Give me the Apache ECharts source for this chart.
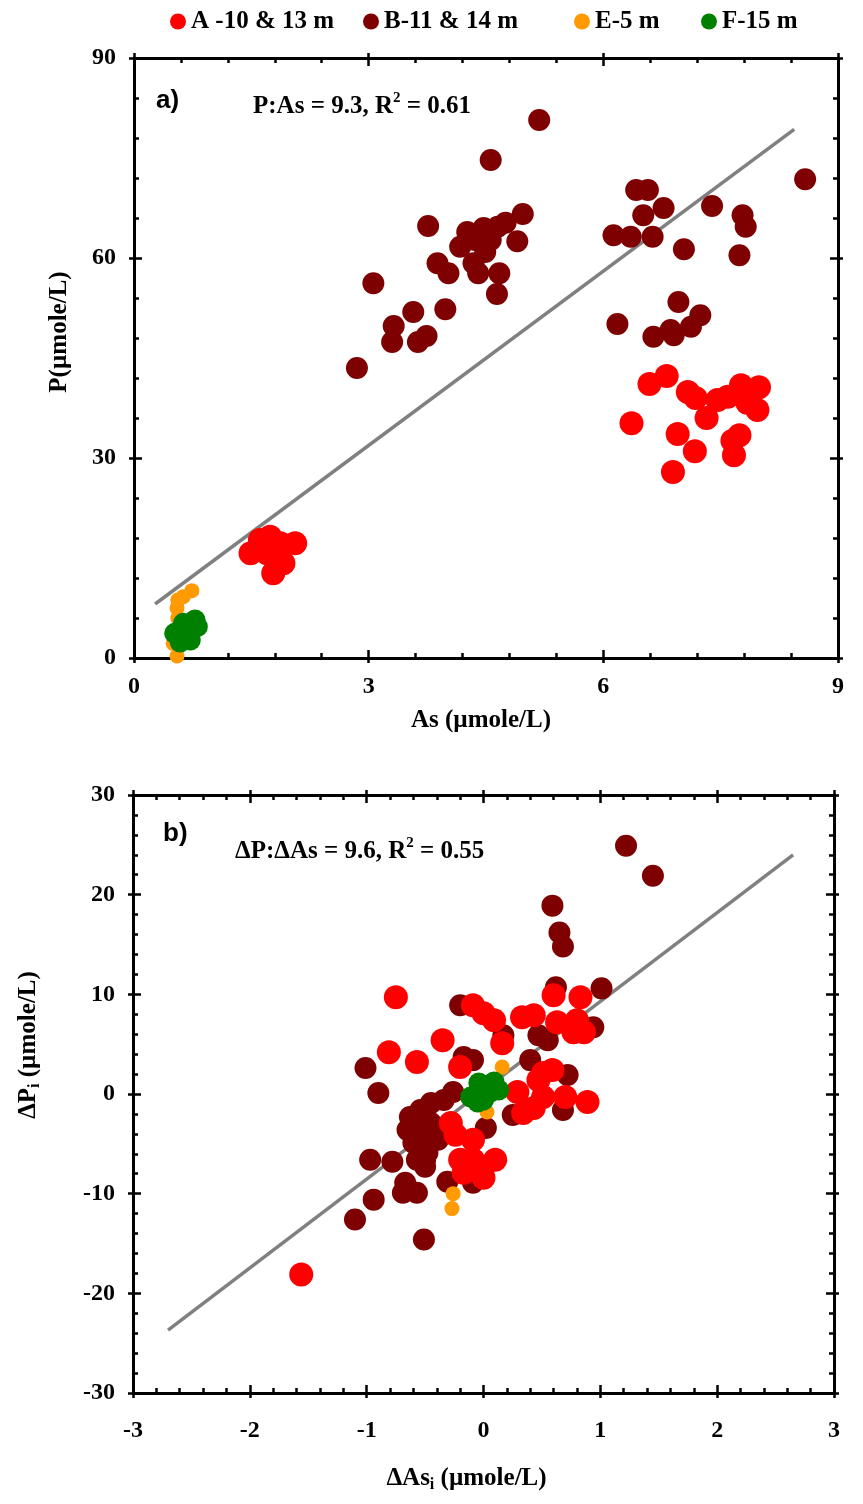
<!DOCTYPE html>
<html>
<head>
<meta charset="utf-8">
<script src="https://cdn.jsdelivr.net/npm/echarts@6/dist/echarts.min.js"></script>
<style>
html,body{margin:0;padding:0;background:#fff;}
#c{width:863px;height:1504px;}
</style>
</head>
<body>
<div id="c"></div>
<script>
// ---------- DATA ----------
const seriesNames = ['A -10 & 13 m', 'B-11 & 14 m', 'E-5 m', 'F-15 m'];
const seriesColors = ['#ff0000', '#7f0000', '#ff9a00', '#008000'];

// Panel a: As (µmole/L) vs P (µmole/L)
const aA = [[1.49,15.7],[1.61,17.7],[1.74,18.2],[1.87,17.2],[2.06,17.2],[1.91,14.2],[1.78,12.7],[1.70,15.7],
  [6.59,41.1],[6.81,42.3],[6.36,35.2],[7.08,39.9],[7.18,39.0],[7.32,36.0],[7.46,38.7],[7.59,39.2],[7.76,40.9],
  [7.99,40.6],[7.97,37.2],[7.84,38.3],[6.95,33.6],[7.17,31.0],[7.74,33.4],[7.65,32.6],[7.67,30.4],[6.89,27.9]];
const aB = [[5.18,80.7],[4.56,74.7],[8.58,71.8],[6.42,70.2],[6.57,70.2],[6.77,67.5],[7.39,67.8],[7.78,66.4],
  [7.82,64.7],[6.51,66.4],[6.13,63.4],[6.35,63.2],[6.63,63.2],[7.03,61.3],[7.74,60.4],[4.97,66.6],[3.76,64.8],
  [4.26,63.9],[4.47,64.5],[4.65,64.7],[4.75,65.3],[4.90,62.5],[4.17,61.7],[4.56,62.7],[4.36,62.7],[4.49,60.9],
  [3.88,59.2],[4.02,57.7],[4.34,59.2],[4.40,57.7],[4.67,57.7],[4.64,54.6],[3.06,56.2],[3.57,51.9],[3.98,52.3],
  [3.32,49.8],[3.30,47.4],[3.74,48.3],[3.63,47.4],[6.18,50.1],[6.96,53.4],[7.24,51.4],[7.12,49.7],[6.86,49.2],
  [6.64,48.2],[6.90,48.4],[2.85,43.5]];
const aE = [[0.74,10.1],[0.56,8.7],[0.55,7.5],[0.56,6.0],[0.50,2.2],[0.55,0.3],[0.63,9.2]];
const aF = [[0.68,3.9],[0.52,3.7],[0.81,4.7],[0.59,2.4],[0.72,2.7],[0.78,5.7],[0.63,5.2]];
const aFit = [[0.27,8.1],[8.44,79.3]];

// Panel b: ΔAs_i vs ΔP_i (µmole/L)
const bA = [[-0.75,9.7],[-0.81,4.2],[-0.57,3.2],[-0.35,5.4],[-0.09,8.9],[0.0,8.1],[0.09,7.4],[0.16,5.1],
  [-0.20,2.7],[0.33,7.7],[0.43,7.9],[0.60,9.9],[0.83,9.7],[0.63,7.2],[0.80,7.4],[0.77,6.2],[0.86,6.2],
  [0.51,2.1],[0.59,2.4],[0.47,1.4],[0.29,0.2],[0.51,-0.3],[0.70,-0.3],[0.89,-0.8],[0.34,-1.9],[0.43,-1.4],
  [-0.28,-2.9],[-0.24,-4.1],[-0.09,-4.6],[-0.20,-6.6],[-0.09,-6.6],[0.10,-6.6],[0.0,-7.3],[-0.17,-7.9],
  [0.0,-8.4],[-1.56,-18.1]];
const bB = [[1.22,24.9],[1.45,21.9],[0.59,18.9],[0.65,16.2],[0.68,14.8],[0.62,10.7],[1.01,10.6],
  [-1.01,2.6],[-0.90,0.1],[-0.20,8.9],[-0.17,3.7],[-0.09,3.4],[0.17,5.9],[0.40,3.4],[0.47,5.9],[0.55,5.4],
  [0.94,6.7],[0.72,1.9],[0.68,-1.6],[0.25,-2.1],[0.02,-3.4],[-0.26,0.2],[-0.34,-0.6],[-0.45,-0.9],
  [-0.54,-1.6],[-0.63,-2.3],[-0.65,-3.6],[-0.54,-3.3],[-0.45,-2.9],[-0.37,-3.6],[-0.39,-4.6],[-0.51,-4.6],
  [-0.60,-4.9],[-0.48,-5.9],[-0.57,-6.6],[-0.78,-6.8],[-0.97,-6.6],[-0.50,-6.6],[-0.50,-7.3],[-0.67,-8.9],
  [-0.69,-9.9],[-0.57,-9.9],[-0.94,-10.6],[-0.31,-8.8],[-0.09,-8.9],[-1.10,-12.6],[-0.51,-14.6]];
const bE = [[0.16,2.7],[0.03,-1.8],[-0.26,-10.0],[-0.27,-11.5],[0.0,-1.0],[0.05,1.2]];
const bF = [[-0.11,-0.3],[-0.04,1.1],[0.09,1.2],[0.13,0.4],[0.0,-0.6],[0.06,0.2],[-0.05,-0.8],[0.0,0.4]];
const bFit = [[-2.70,-23.7],[2.65,24.0]];

// Axis ticks
const aXTicks = {min:0, max:9, interval:3};
const aYTicks = {min:0, max:90, interval:30};
const bXTicks = {min:-3, max:3, interval:1};
const bYTicks = {min:-30, max:30, interval:10};

// ---------- CHART ----------
const serif = 'Liberation Serif';
const labelStyle = {fontFamily: serif, fontWeight: 'bold', fontSize: 24, color: '#000'};
const gridRects = [
  {left:134, top:58, width:704, height:600},
  {left:133, top:795, width:701, height:598}
];
const grids = [];
gridRects.forEach(r => {
  grids.push(Object.assign({outerBoundsMode:'none', containLabel:false}, r));
  grids.push(Object.assign({outerBoundsMode:'none', containLabel:false}, r));
});

function mainAxis(gridIndex, ticks, position, showLabel, extra) {
  return Object.assign({
    type:'value', gridIndex, position,
    min: ticks.min, max: ticks.max, interval: ticks.interval,
    axisLine:{show:true, onZero:false, lineStyle:{color:'#000', width:3}},
    axisTick:{show:true, inside:true, length:8, lineStyle:{color:'#000', width:2.5}},
    minorTick:{show:true, splitNumber:5, length:5, lineStyle:{color:'#000', width:2.5}},
    splitLine:{show:false},
    axisLabel: Object.assign({show:showLabel}, labelStyle),
  }, extra || {});
}
function outerAxis(gridIndex, ticks, position) {
  return {
    type:'value', gridIndex, position,
    min: ticks.min, max: ticks.max, interval: ticks.interval,
    axisLine:{show:false, onZero:false},
    axisTick:{show:true, inside:false, length:5, lineStyle:{color:'#000', width:2.5}},
    splitLine:{show:false},
    axisLabel:{show:false}
  };
}
const nameStyle = {fontFamily: serif, fontWeight:'bold', fontSize:25, color:'#000'};
const subRich = {
  m:{fontFamily:serif, fontWeight:'bold', fontSize:25, lineHeight:28, color:'#000'},
  s:{fontFamily:serif, fontWeight:'bold', fontSize:16, lineHeight:12, verticalAlign:'bottom', color:'#000'}
};

const xAxes = [
  mainAxis(0, aXTicks, 'bottom', true, {name:'As (µmole/L)', nameLocation:'middle', nameGap:50,
    nameTextStyle:Object.assign({}, nameStyle, {padding:[0,10,0,0]}),
    axisLabel: Object.assign({show:true, margin:17}, labelStyle)}),
  mainAxis(0, aXTicks, 'top', false),
  outerAxis(1, aXTicks, 'bottom'),
  outerAxis(1, aXTicks, 'top'),
  mainAxis(2, bXTicks, 'bottom', true, {name:'{m|ΔAs}{s|i}{m| (µmole/L)}', nameLocation:'middle', nameGap:72,
    nameTextStyle: Object.assign({}, nameStyle, {rich:subRich, padding:[0,34,0,0]}),
    axisLabel: Object.assign({show:true, margin:26}, labelStyle)}),
  mainAxis(2, bXTicks, 'top', false),
  outerAxis(3, bXTicks, 'bottom'),
  outerAxis(3, bXTicks, 'top')
];
const yAxes = [
  mainAxis(0, aYTicks, 'left', true, {name:'P(µmole/L)', nameLocation:'middle', nameGap:62, nameRotate:90,
    nameTextStyle:Object.assign({}, nameStyle, {padding:[0,0,0,52]}),
    axisLabel: Object.assign({show:true, margin:18}, labelStyle)}),
  mainAxis(0, aYTicks, 'right', false),
  outerAxis(1, aYTicks, 'left'),
  outerAxis(1, aYTicks, 'right'),
  mainAxis(2, bYTicks, 'left', true, {name:'{m|ΔP}{s|i}{m| (µmole/L)}', nameLocation:'middle', nameGap:90, nameRotate:90,
    nameTextStyle: Object.assign({}, nameStyle, {rich:subRich, padding:[0,0,0,98]}),
    axisLabel: Object.assign({show:true, margin:18}, labelStyle)}),
  mainAxis(2, bYTicks, 'right', false),
  outerAxis(3, bYTicks, 'left'),
  outerAxis(3, bYTicks, 'right')
];

function fitSeries(data, xi, yi) {
  return {type:'line', data, xAxisIndex:xi, yAxisIndex:yi, symbol:'none', silent:true,
    lineStyle:{color:'#808080', width:3.5}, z:1};
}
function sc(name, data, xi, yi, size, color, z) {
  return {type:'scatter', name, data, xAxisIndex:xi, yAxisIndex:yi, symbol:'circle', symbolSize:size,
    itemStyle:{color, opacity:1}, z};
}
const series = [
  fitSeries(aFit, 0, 0),
  sc(seriesNames[1], aB, 0, 0, 22, seriesColors[1], 2),
  sc(seriesNames[2], aE, 0, 0, 15, seriesColors[2], 3),
  sc(seriesNames[0], aA, 0, 0, 24, seriesColors[0], 4),
  sc(seriesNames[3], aF, 0, 0, 21, seriesColors[3], 5),
  fitSeries(bFit, 4, 4),
  sc(seriesNames[1], bB, 4, 4, 22, seriesColors[1], 2),
  sc(seriesNames[2], bE, 4, 4, 15, seriesColors[2], 3),
  sc(seriesNames[0], bA, 4, 4, 24, seriesColors[0], 4),
  sc(seriesNames[3], bF, 4, 4, 21, seriesColors[3], 5)
];

const richEq = {
  t:{fontFamily:serif, fontWeight:'bold', fontSize:25, lineHeight:28, color:'#000', verticalAlign:'bottom'},
  p:{fontFamily:serif, fontWeight:'bold', fontSize:15, lineHeight:28, color:'#000', verticalAlign:'top', padding:[0,0,9,0]}
};

const legendLefts = [165, 358, 569, 696];
const legends = seriesNames.map((n, i) => ({
  data:[n], left:legendLefts[i], top:4, itemWidth:16, itemHeight:16, icon:'circle',
  textStyle:{fontFamily:serif, fontWeight:'bold', fontSize:25, color:'#000'}
}));

const option = {
  animation:false,
  backgroundColor:'#fff',
  legend: legends,
  title:[
    {text:'a)', left:151, top:83, textStyle:{fontFamily:'Liberation Sans', fontWeight:'bold', fontSize:26, color:'#000'}},
    {text:'{t|P:As = 9.3, R}{p|2}{t| = 0.61}', left:248, top:86, textStyle:{rich:richEq}},
    {text:'b)', left:158, top:816, textStyle:{fontFamily:'Liberation Sans', fontWeight:'bold', fontSize:26, color:'#000'}},
    {text:'{t|ΔP:ΔAs = 9.6, R}{p|2}{t| = 0.55}', left:230, top:831, textStyle:{rich:richEq}}
  ],
  grid: grids,
  xAxis: xAxes,
  yAxis: yAxes,
  series
};
const chart = echarts.init(document.getElementById('c'), null, {renderer:'canvas'});
chart.setOption(option);
</script>
</body>
</html>
